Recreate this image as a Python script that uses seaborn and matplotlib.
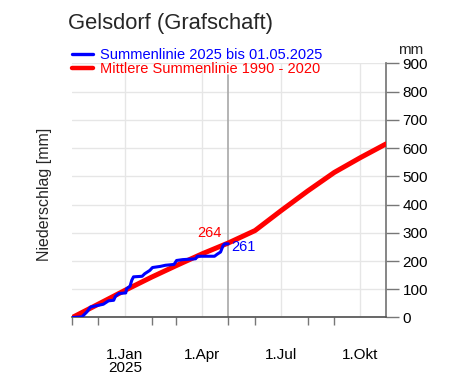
import matplotlib
matplotlib.use('Agg')

import matplotlib.pyplot as plt
import matplotlib.dates as mdates
import pandas as pd
import seaborn as sns
from matplotlib.lines import Line2D

# Summenlinie 2025 (bis 01.05.2025)
cur_dates = ["2024-11-01", "2024-11-12", "2024-11-18", "2024-11-22", "2024-12-07",
             "2024-12-13", "2024-12-19", "2024-12-21", "2024-12-25", "2025-01-02",
             "2025-01-03", "2025-01-07", "2025-01-09", "2025-01-11", "2025-01-21",
             "2025-01-24", "2025-01-30", "2025-02-02", "2025-02-11", "2025-02-17",
             "2025-02-27", "2025-03-02", "2025-03-09", "2025-03-24", "2025-03-26",
             "2025-04-15", "2025-04-18", "2025-04-22", "2025-04-25", "2025-04-27",
             "2025-05-01"]
cur_mm = [0, 2, 20, 37, 47, 59, 61, 75, 85, 87, 102, 111, 132, 144, 146, 155, 167,
          177, 181, 185, 188, 202, 205, 208, 217, 217, 224, 232, 255, 261, 261]

# Mittlere Summenlinie 1990 - 2020
mean_dates = ["2024-11-01", "2024-12-01", "2025-01-01", "2025-02-01", "2025-03-01",
              "2025-04-01", "2025-05-01", "2025-06-01", "2025-07-01", "2025-08-01",
              "2025-09-01", "2025-10-01", "2025-10-31"]
mean_mm = [0, 47, 96, 143, 183, 226, 264, 308, 378, 448, 514, 566, 615]

tick_dates = ["2025-01-01", "2025-04-01", "2025-07-01", "2025-10-01"]
tick_labels = ["1.Jan\n2025", "1.Apr", "1.Jul", "1.Okt"]

cur = pd.DataFrame({"date": pd.to_datetime(cur_dates), "mm": cur_mm})
mean = pd.DataFrame({"date": pd.to_datetime(mean_dates), "mm": mean_mm})
stand = pd.Timestamp("2025-05-01")

sns.set_theme(style="white")
plt.rcParams['font.family'] = ['Liberation Sans', 'DejaVu Sans']

fig = plt.figure(figsize=(4.5, 3.86), dpi=100)
ax = fig.add_axes([0.1607, 0.1775, 0.6971, 0.658])

ax.grid(axis="y", color="#e6e6e6", lw=1)
for d in tick_dates:
    ax.axvline(pd.Timestamp(d), color="#e6e6e6", lw=1, zorder=0)
ax.axvline(stand, ymax=0.955, color="#a8a8a8", lw=1.2, zorder=1)

sns.lineplot(data=mean, x="date", y="mm", color="red", lw=3.6, ax=ax, zorder=3)
sns.lineplot(data=cur, x="date", y="mm", color="blue", lw=2.2, ax=ax, zorder=4)

ax.set_xlim(pd.Timestamp("2024-11-01"), pd.Timestamp("2025-10-31"))
ax.set_ylim(0, 900)
ax.set_yticks(range(0, 901, 100))
ax.yaxis.tick_right()
ax.set_xticks(pd.to_datetime(tick_dates))
ax.set_xticklabels(tick_labels)
for t in ax.get_xticklabels():
    t.set_linespacing(0.95)
ax.xaxis.set_minor_locator(mdates.MonthLocator())
ax.tick_params(axis="x", which="major", length=15, width=1, color="#555555",
               direction="out", pad=7, labelsize=11, labelcolor="black")
ax.tick_params(axis="x", which="minor", length=6, width=1, color="#777777",
               direction="out", bottom=True)
ax.tick_params(axis="y", right=True, length=9, width=1, color="#777777",
               direction="out", pad=3, labelsize=11, labelcolor="black")
ax.set_xlabel("")
ax.set_ylabel("")

for s in ["top", "left"]:
    ax.spines[s].set_visible(False)
ax.spines["right"].set_color("#777777")
ax.spines["bottom"].set_color("#555555")

ax.annotate("264", (stand, 264), xytext=(-5, 2), textcoords="offset points",
            color="red", fontsize=10.5, ha="right", va="bottom")
ax.annotate("261", (stand, 261), xytext=(2, -2), textcoords="offset points",
            color="blue", fontsize=10.5, ha="left", va="center")

handles = [Line2D([], [], color="blue", lw=2.4), Line2D([], [], color="red", lw=3.2)]
fig.legend(handles, ["Summenlinie 2025 bis 01.05.2025", "Mittlere Summenlinie 1990 - 2020"],
           loc="upper left", bbox_to_anchor=(0.16, 0.875), frameon=False,
           labelcolor=["blue", "red"], fontsize=10.5, handlelength=1.45,
           handletextpad=0.45, labelspacing=-0.02, borderpad=0, borderaxespad=0)

fig.text(68 / 450, 1 - 24 / 386, "Gelsdorf (Grafschaft)", fontsize=15.8,
         ha="left", va="center")
fig.text(398 / 450, 1 - 50 / 386, "mm", fontsize=11, ha="left", va="center")
fig.text(45 / 450, 1 - 194 / 386, "Niederschlag [mm]", fontsize=11.5, rotation=90,
         ha="center", va="center")

fig.savefig("out.png", dpi=100)
